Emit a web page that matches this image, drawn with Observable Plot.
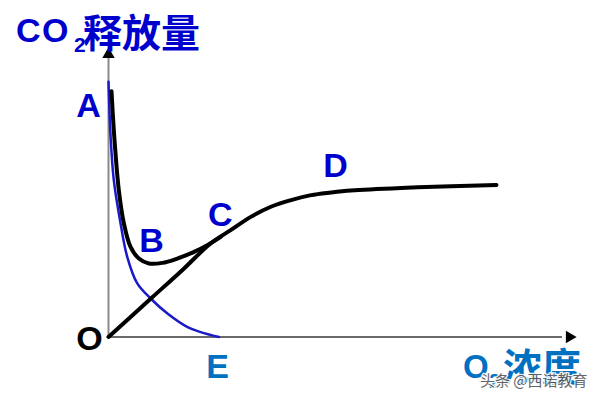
<!DOCTYPE html>
<html>
<head>
<meta charset="utf-8">
<script src="https://cdn.jsdelivr.net/npm/d3@7"></script>
<script src="https://cdn.jsdelivr.net/npm/@observablehq/plot@0.6"></script>
<style>
  html, body { margin: 0; padding: 0; background: #fff; }
  #chart { width: 600px; height: 400px; }
</style>
</head>
<body>
<div id="chart"></div>
<script>
// Anaerobic respiration (blue curve, A -> E)
const anaerobicX = [0, 0.43, 1.13, 2.57, 4.0, 6.15, 9.0, 12.6, 16.9, 19.7, 23.6];
const anaerobicY = [88.2, 69.8, 54.2, 39.3, 27.7, 18.5, 13.3, 8.1, 3.4, 1.7, 0];

// Total CO2 release (black curve, A -> B -> C)
const totalX = [0.64, 1.28, 2.2, 3.28, 4.71, 6.49, 8.63, 11.5, 14.7, 18.3, 21.1, 24.0];
const totalY = [84.9, 68.1, 50.8, 39.3, 31.1, 27.1, 25.4, 25.6, 27.1, 29.4, 31.7, 34.6];

// Aerobic respiration (black curve, O -> C -> D)
const aerobicX = [0, 9.0, 16.1, 21.8, 26.1, 30.4, 34.7, 39.0, 43.3, 47.5, 51.8, 62.5, 73.2, 82.9];
const aerobicY = [0, 13.2, 23.6, 32.3, 36.9, 41.5, 45.0, 47.3, 49.0, 49.9, 50.6, 51.5, 52.1, 52.5];

// Point labels
const pointNames = ["A", "B", "C", "D", "E", "O"];
const pointX = [-4.27, 9.19, 23.9, 48.5, 23.3, -4.06];
const pointY = [76.0, 29.5, 38.3, 55.1, -14.3, -4.66];
const pointColors = ["#0000cc", "#0000cc", "#0000cc", "#0000cc", "#0070c0", "#000000"];

// Axis extents
const axisMax = 100;

const toRows = (xs, ys) => xs.map((x, i) => ({x, y: ys[i]}));
const anaerobic = toRows(anaerobicX, anaerobicY);
const total = toRows(totalX, totalY);
const aerobic = toRows(aerobicX, aerobicY);
const labels = pointNames.map((t, i) => ({t, x: pointX[i], y: pointY[i], c: pointColors[i]}));

const plot = Plot.plot({
  width: 600,
  height: 400,
  marginLeft: 108,
  marginRight: 24,
  marginTop: 47,
  marginBottom: 63.5,
  x: {domain: [0, axisMax], axis: null},
  y: {domain: [0, axisMax], axis: null},
  style: {background: "#fff", fontFamily: "'Liberation Sans', 'Noto Sans CJK SC', sans-serif"},
  marks: [
    // axes
    Plot.ruleX([0], {y1: 0, y2: axisMax - 3, stroke: "#8a8a8a", strokeWidth: 2}),
    Plot.ruleY([0], {x1: 0, x2: axisMax - 3, stroke: "#6a6a6a", strokeWidth: 2}),
    Plot.dot([{x: 0, y: axisMax - 2.4}], {x: "x", y: "y", symbol: "triangle", r: 4.6, fill: "#000", stroke: null}),
    Plot.dot([{x: axisMax - 1.5, y: 0}], {x: "x", y: "y", symbol: "triangle", r: 4.6, fill: "#000", stroke: null, rotate: 90}),
    // curves
    Plot.line(anaerobic, {x: "x", y: "y", stroke: "#1a1ac8", strokeWidth: 2.5, curve: "catmull-rom"}),
    Plot.line(aerobic, {x: "x", y: "y", stroke: "#000", strokeWidth: 4, curve: "catmull-rom"}),
    Plot.line(total, {x: "x", y: "y", stroke: "#000", strokeWidth: 4, curve: "catmull-rom"}),
    // letters
    Plot.text(labels, {x: "x", y: "y", text: "t", fill: "c", lineAnchor: "bottom", fontSize: 34, fontWeight: "bold"})
  ]
});

document.getElementById("chart").appendChild(plot);

// Titles as SVG text with subscripts
const svg = d3.select(plot);
const t1 = svg.append("text").attr("fill", "#0000cc").attr("font-weight", "bold").attr("text-anchor", "start")
  .attr("font-family", "'Liberation Sans', 'Noto Sans CJK SC', sans-serif");
t1.append("tspan").attr("x", 16).attr("y", 42).attr("font-size", 34).attr("letter-spacing", 1.5).text("CO");
t1.append("tspan").attr("x", 74).attr("y", 52).attr("font-size", 21).text("2");
t1.append("tspan").attr("x", 83).attr("y", 47).attr("font-size", 39).attr("font-family", "'Noto Sans CJK SC', sans-serif").text("释放量");

const t2 = svg.append("text").attr("fill", "#0070c0").attr("font-weight", "bold").attr("text-anchor", "start")
  .attr("font-family", "'Liberation Sans', 'Noto Sans CJK SC', sans-serif");
t2.append("tspan").attr("x", 463).attr("y", 378).attr("font-size", 33).text("O");
t2.append("tspan").attr("x", 489).attr("y", 388).attr("font-size", 20).text("2");
t2.append("tspan").attr("x", 503).attr("y", 381).attr("font-size", 39).attr("font-family", "'Noto Sans CJK SC', sans-serif").text("浓度");

// watermark
svg.append("text").attr("x", 480).attr("y", 386).attr("font-size", 15).attr("text-anchor", "start")
  .attr("font-family", "'Noto Sans CJK SC', sans-serif")
  .attr("fill", "#555").attr("stroke", "#fff").attr("stroke-width", 2.5)
  .attr("paint-order", "stroke").attr("opacity", 0.9)
  .text("头条 @西诺教育");
</script>
</body>
</html>
